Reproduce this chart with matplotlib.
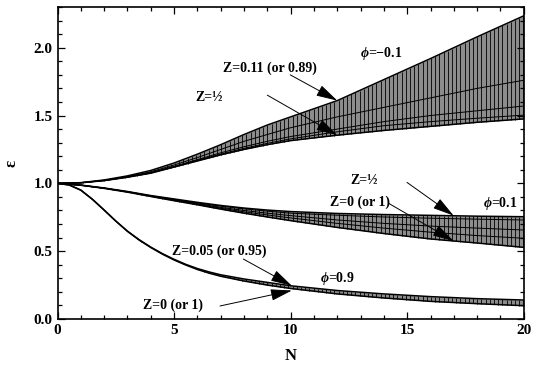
import numpy as np
import matplotlib
matplotlib.use("Agg")
import matplotlib.pyplot as plt

plt.rcParams['font.family'] = ['Liberation Serif', 'DejaVu Serif']
plt.rcParams['font.weight'] = 'bold'
plt.rcParams['mathtext.fontset'] = 'custom'
plt.rcParams['mathtext.it'] = 'Liberation Serif:italic:bold'
plt.rcParams['mathtext.rm'] = 'Liberation Serif:bold'

# ---- data: emittance ratio vs number of cells ----
N_smooth = [0, 1, 2, 3, 4, 5, 6, 7, 8, 9, 10, 12, 14, 16, 18, 20]

# phi = -0.1
phm_upper = [1.0, 1.005, 1.025, 1.055, 1.095, 1.15, 1.215, 1.285, 1.36, 1.43, 1.49, 1.61, 1.765, 1.92, 2.08, 2.235]
phm_mid_a = [1.0, 1.005, 1.023, 1.05, 1.085, 1.135, 1.19, 1.25, 1.31, 1.36, 1.41, 1.49, 1.56, 1.63, 1.70, 1.76]
phm_mid_b = [1.0, 1.004, 1.021, 1.047, 1.08, 1.125, 1.175, 1.225, 1.27, 1.31, 1.345, 1.40, 1.455, 1.50, 1.535, 1.57]
phm_mid_c = [1.0, 1.004, 1.02, 1.046, 1.077, 1.122, 1.17, 1.215, 1.258, 1.295, 1.328, 1.38, 1.425, 1.455, 1.48, 1.503]
phm_lower = [1.0, 1.004, 1.02, 1.045, 1.075, 1.12, 1.165, 1.21, 1.25, 1.285, 1.315, 1.355, 1.39, 1.42, 1.45, 1.475]

# phi = 0.1
php_upper = [1.0, 0.987, 0.966, 0.94, 0.91, 0.885, 0.86, 0.837, 0.818, 0.803, 0.792, 0.778, 0.77, 0.764, 0.758, 0.754]
php_mid_d = [1.0, 0.987, 0.965, 0.939, 0.909, 0.882, 0.856, 0.832, 0.812, 0.795, 0.78, 0.765, 0.752, 0.743, 0.736, 0.73]
php_mid_e = [1.0, 0.987, 0.965, 0.938, 0.907, 0.878, 0.85, 0.823, 0.80, 0.78, 0.762, 0.73, 0.705, 0.685, 0.67, 0.656]
php_mid_f = [1.0, 0.986, 0.964, 0.937, 0.905, 0.875, 0.846, 0.817, 0.79, 0.767, 0.745, 0.705, 0.67, 0.64, 0.615, 0.595]
php_lower = [1.0, 0.986, 0.963, 0.935, 0.903, 0.872, 0.842, 0.81, 0.78, 0.752, 0.725, 0.675, 0.63, 0.59, 0.56, 0.528]

# phi = 0.9
N_steep = [0, 0.5, 1, 1.5, 2, 2.5, 3, 3.5, 4, 4.5, 5, 5.5, 6, 6.5, 7, 8, 9, 10, 12, 14, 16, 18, 20]
ph9_upper = [1.0, 0.988, 0.95, 0.882, 0.803, 0.722, 0.648, 0.585, 0.53, 0.482, 0.44, 0.403, 0.372, 0.347, 0.326,
             0.295, 0.27, 0.245, 0.21, 0.185, 0.165, 0.15, 0.14]
ph9_lower = [1.0, 0.988, 0.95, 0.882, 0.803, 0.722, 0.646, 0.582, 0.527, 0.478, 0.435, 0.398, 0.365, 0.338, 0.315,
             0.28, 0.25, 0.225, 0.185, 0.155, 0.13, 0.113, 0.098]

bands = [
    (N_smooth, phm_upper, phm_lower, [phm_mid_a, phm_mid_b, phm_mid_c]),
    (N_smooth, php_upper, php_lower, [php_mid_d, php_mid_e, php_mid_f]),
    (N_steep, ph9_upper, ph9_lower, []),
]

fig = plt.figure(figsize=(5.4, 3.66), dpi=100)
ax = fig.add_axes([0.1065, 0.1284, 0.8635, 0.8525])

hatch_N = np.arange(0, 20.001, 0.18)
for Ns, up, lo, mids in bands:
    ax.fill_between(Ns, lo, up, color='#8c8c8c', lw=0, zorder=1)
    y_up = np.interp(hatch_N, Ns, up)
    y_lo = np.interp(hatch_N, Ns, lo)
    ax.vlines(hatch_N, y_lo, y_up, color='black', lw=0.6, zorder=2)
    for m in mids:
        ax.plot(Ns, m, color='black', lw=0.7, zorder=3)
    ax.plot(Ns, up, color='black', lw=1.1, zorder=4)
    ax.plot(Ns, lo, color='black', lw=1.1, zorder=4)

ax.set_xlim(0, 20)
ax.set_ylim(0, 2.3)
ax.set_xticks([0, 5, 10, 15, 20])
ax.set_xticks(np.arange(0, 21, 1), minor=True)
ax.set_yticks([0.0, 0.5, 1.0, 1.5, 2.0])
ax.set_yticks(np.arange(0, 2.31, 0.1), minor=True)
ax.yaxis.set_major_formatter(matplotlib.ticker.FormatStrFormatter('%.1f'))
ax.tick_params(which='both', direction='in', top=True, right=True, labelsize=11, width=0.9)
ax.tick_params(which='major', length=5)
ax.tick_params(which='minor', length=3)
for s in ax.spines.values():
    s.set_linewidth(1.2)

ax.set_xlabel('N', fontsize=12, fontweight='bold', labelpad=8)
ax.set_ylabel('ε', fontsize=12, fontweight='bold', labelpad=10)

txt = dict(fontsize=10, fontweight='bold', ha='left', va='center', zorder=6)
ax.text(7.10, 1.85, 'Z=0.11 (or 0.89)', **txt)
ax.text(5.90, 1.63, 'Z=½', **txt)
ax.text(12.98, 1.958, r'$\phi$=−0.1', **txt)
ax.text(12.55, 1.024, 'Z=½', **txt)
ax.text(11.70, 0.864, 'Z=0 (or 1)', **txt)
ax.text(18.26, 0.855, r'$\phi$=0.1', **txt)
ax.text(4.91, 0.50, 'Z=0.05 (or 0.95)', **txt)
ax.text(3.67, 0.103, 'Z=0 (or 1)', **txt)
ax.text(11.27, 0.30, r'$\phi$=0.9', **txt)

arrow = dict(arrowstyle='-|>,head_length=1.1,head_width=0.3', color='black', lw=0.7,
             mutation_scale=12, shrinkA=0, shrinkB=0)
for tail, tip in [((9.98, 1.80), (12.0, 1.61)),
                  ((9.0, 1.65), (12.0, 1.355)),
                  ((14.99, 1.007), (16.99, 0.762)),
                  ((14.2, 0.853), (16.99, 0.575)),
                  ((7.97, 0.442), (10.05, 0.245)),
                  ((6.97, 0.096), (10.05, 0.21))]:
    ax.annotate('', xy=tip, xytext=tail, arrowprops=arrow, zorder=7)

fig.savefig('out.png', dpi=100)
